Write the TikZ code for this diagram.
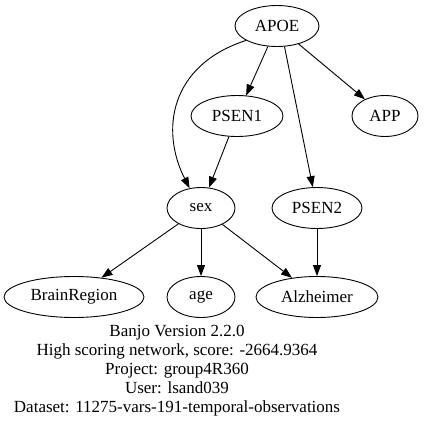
\documentclass[tikz,border=0pt]{standalone}
\usepackage{fontspec}
\setmainfont{Liberation Serif}
\usetikzlibrary{arrows.meta, shapes.geometric}
\tikzset{every node/.append style={font=\fontsize{17}{19}\selectfont}}

\begin{document}
\begin{tikzpicture}[x=1pt, y=-1pt, line width=0.9pt, >={Triangle[length=11pt, width=8pt]},
    var/.style={draw, ellipse, inner sep=0pt, minimum height=41pt}]
    \useasboundingbox (0,0) rectangle (425,429);
    % the variables
    \node[var, minimum width=84pt] (apoe) at (277,26) {APOE};
    \node[var, minimum width=92pt] (psen1) at (237,116) {PSEN1};
    \node[var, minimum width=66pt] (app) at (385,116) {APP};
    \node[var, minimum width=68pt] (sex) at (201,208) {sex};
    \node[var, minimum width=90pt] (psen2) at (317,208) {PSEN2};
    \node[var, minimum width=140pt] (brain) at (74,297) {BrainRegion};
    \node[var, minimum width=68pt] (age) at (201,297) {age};
    \node[var, minimum width=122pt] (alz) at (317,297) {Alzheimer};
    % the edges
    \draw[->] (apoe) -- (psen1);
    \draw[->] (apoe) -- (app);
    \draw[->] (apoe.290) -- (psen2);
    \draw[->] (apoe.205) .. controls (170,65) and (160,130) .. (sex.120);
    \draw[->] (psen1) -- (sex);
    \draw[->] (sex) -- (brain);
    \draw[->] (sex) -- (age);
    \draw[->] (sex) -- (alz);
    \draw[->] (psen2) -- (alz);
    % the caption
    \node[align=center] (caption) at (177,371)
        {Banjo Version 2.2.0\\
         High scoring network, score: -2664.9364\\
         Project: group4R360\\
         User: lsand039\\
         Dataset: 11275-vars-191-temporal-observations};
\end{tikzpicture}
\end{document}
